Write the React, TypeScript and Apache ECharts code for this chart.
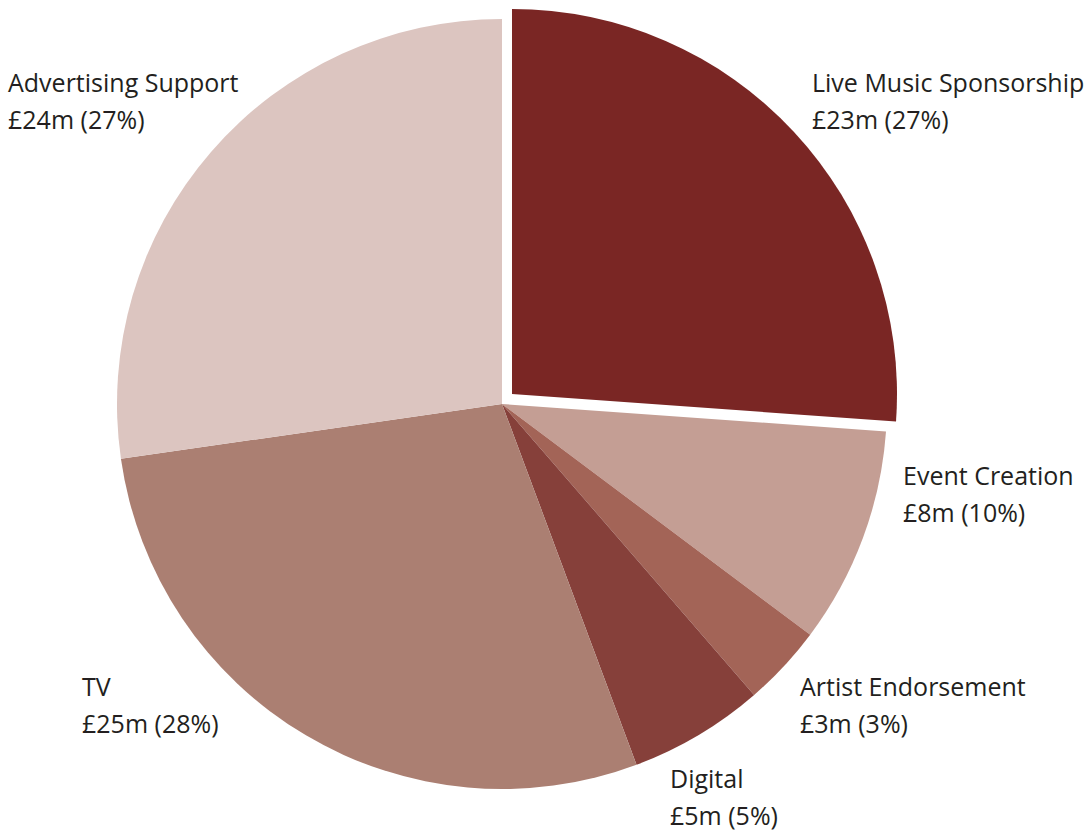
import React, { useEffect, useRef } from "react";
import * as echarts from "echarts";

const categories = [
  "Live Music Sponsorship",
  "Event Creation",
  "Artist Endorsement",
  "Digital",
  "TV",
  "Advertising Support",
];
const valuesM = [23, 8, 3, 5, 25, 24];
const percentLabels = [27, 10, 3, 5, 28, 27];
const colors = ["#7a2624", "#c49e94", "#a36457", "#86403a", "#ab7f72", "#dcc5c0"];
const explodedIndex = 0;

// label anchor points (top-left of each label block)
const labelPos: [number, number][] = [
  [812, 63],
  [903, 456],
  [800, 667],
  [670, 759],
  [82, 667],
  [8, 63],
];

export default function App() {
  const ref = useRef<HTMLDivElement>(null);
  useEffect(() => {
    if (!ref.current) return;
    const chart = echarts.init(ref.current, null, { renderer: "svg" });
    const makeData = (visible: (i: number) => boolean) =>
      categories.map((name, i) => ({
        name,
        value: valuesM[i],
        itemStyle: { color: visible(i) ? colors[i] : "rgba(0,0,0,0)" },
        label: { show: visible(i) },
      }));
    const common = {
      type: "pie",
      radius: [0, 385],
      startAngle: 90,
      clockwise: true,
      silent: true,
      avoidLabelOverlap: false,
      emphasis: { disabled: true },
      label: {
        show: true,
        position: "outside",
        alignTo: "none",
        overflow: "none",
        formatter: (p: any) =>
          `${p.name}\n£${valuesM[p.dataIndex]}m (${percentLabels[p.dataIndex]}%)`,
        fontFamily: "Open Sans",
        fontSize: 25,
        lineHeight: 37,
        color: "#231f20",
        align: "left",
      },
      labelLine: { show: false },
      labelLayout: (params: any) => {
        const [x, y] = labelPos[params.dataIndex];
        return { x, y, align: "left", verticalAlign: "top" };
      },
    };
    chart.setOption({
      animation: false,
      backgroundColor: "#ffffff",
      series: [
        {
          ...common,
          center: [502, 404],
          data: makeData((i) => i !== explodedIndex),
        },
        {
          ...common,
          center: [512, 394],
          data: makeData((i) => i === explodedIndex),
        },
      ],
    });
    return () => chart.dispose();
  }, []);
  return (
    <div
      ref={ref}
      style={{ position: "fixed", left: 0, top: 0, width: 1090, height: 833 }}
    />
  );
}
